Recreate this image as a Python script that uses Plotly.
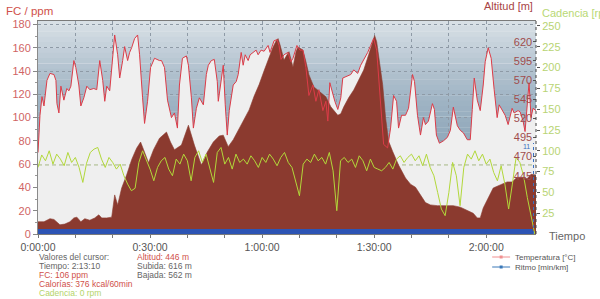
import plotly.graph_objects as go

# ---------------- data ----------------
# Heart rate (FC, ppm) vs time in minutes
hr_min = [0, 0.3, 0.53, 1.07, 1.6, 2.4, 3.2, 4.27, 4.8, 5.07,
          5.6, 6.13, 6.93, 7.73, 8.27, 8.8, 9.6, 10.13, 10.93, 11.47,
          12.27, 13.07, 13.87, 14.93, 15.73, 16.53, 17.33, 17.87, 18.4, 19.2,
          20.0, 20.53, 21.33, 21.87, 22.67, 23.2, 24.0, 24.53, 25.07, 25.87,
          26.67, 27.2, 28.0, 28.53, 29.33, 30.13, 31.2, 32.53, 33.07, 33.87,
          34.67, 35.2, 35.73, 36.53, 37.33, 37.87, 38.67, 39.73, 40.27, 41.07,
          41.6, 42.4, 43.2, 44.27, 45.07, 45.6, 46.4, 47.2, 48.0, 48.27,
          49.07, 49.6, 50.13, 50.67, 51.2, 52.27, 53.07, 53.6, 54.4, 54.93,
          55.47, 56.27, 56.8, 57.87, 58.4, 58.93, 59.73, 60.53, 61.6, 62.13,
          63.2, 64.0, 64.53, 65.07, 65.87, 66.93, 67.73, 68.27, 69.33, 70.13,
          70.93, 71.73, 72.53, 73.6, 74.4, 75.2, 76.27, 77.07, 77.6, 78.13,
          78.93, 79.47, 80.27, 81.07, 81.6, 82.93, 83.73, 84.53, 85.6, 86.4,
          87.47, 88.27, 89.07, 89.87, 90.67, 91.73, 92.53, 93.6, 94.4, 95.2,
          96.0, 96.53, 97.33, 98.4, 99.2, 100.27, 100.8, 101.6, 102.4, 103.2,
          103.73, 104.53, 105.6, 106.13, 106.67, 107.47, 108.53, 109.6, 110.4, 111.2,
          112.27, 113.07, 113.87, 114.93, 115.73, 116.27, 116.8, 117.6, 118.4, 119.2,
          119.73, 120.53, 121.33, 122.13, 122.93, 123.47, 124.27, 125.07, 125.87, 126.93,
          127.47, 128.53, 129.07, 129.87, 130.4, 130.93, 131.47, 132.0, 132.53, 133.33]
hr_bpm = [70, 95, 102, 118, 110, 132, 138, 137, 132, 112,
          104, 127, 115, 125, 123, 127, 149, 143, 128, 110,
          117, 127, 124, 125, 124, 149, 132, 114, 127, 123,
          151, 171, 154, 134, 149, 161, 149, 156, 160, 168,
          171, 154, 117, 95, 114, 143, 151, 149, 149, 143,
          115, 106, 100, 104, 91, 128, 151, 153, 145, 117,
          91, 108, 117, 111, 137, 145, 149, 150, 131, 114,
          134, 145, 111, 85, 106, 128, 131, 137, 156, 145,
          154, 149, 154, 157, 158, 154, 158, 157, 162, 156,
          166, 167, 162, 150, 154, 156, 148, 151, 162, 158,
          158, 143, 119, 128, 114, 124, 106, 114, 97, 130,
          119, 114, 107, 117, 134, 136, 137, 141, 138, 145,
          151, 156, 162, 168, 158, 114, 77, 74, 91, 119,
          114, 91, 102, 102, 108, 137, 131, 102, 85, 100,
          94, 97, 112, 107, 85, 78, 80, 83, 89, 109,
          93, 89, 87, 81, 81, 107, 134, 115, 106, 128,
          148, 160, 151, 124, 100, 111, 106, 102, 94, 108,
          104, 106, 105, 97, 88, 112, 130, 100, 108, 106]

# Altitude (m) vs time in minutes
alt_min = [0, 1.6, 3.2, 4.27, 5.87, 7.2, 8.53, 9.6, 10.4, 11.47,
           12.53, 13.87, 15.2, 16.27, 17.07, 18.4, 19.73, 20.53, 21.33, 22.4,
           23.73, 25.07, 26.4, 27.47, 28.27, 29.6, 30.93, 32.53, 34.4, 35.47,
           36.53, 38.4, 40.27, 41.87, 43.73, 45.33, 46.93, 48.53, 49.6, 50.93,
           52.27, 53.6, 55.2, 56.53, 57.87, 59.2, 60.53, 61.87, 62.93, 63.73,
           64.27, 64.8, 65.87, 66.67, 67.2, 68.27, 69.07, 69.6, 70.93, 71.73,
           72.53, 73.87, 74.93, 75.73, 77.07, 78.4, 80.27, 81.07, 81.87, 83.2,
           84.53, 85.87, 87.2, 88.53, 89.6, 90.13, 90.67, 91.2, 92.27, 93.07,
           93.87, 94.93, 96.53, 98.4, 99.73, 101.07, 102.4, 103.73, 105.07, 106.93,
           109.07, 111.2, 113.07, 114.93, 116.53, 117.6, 118.4, 119.2, 120.53, 121.87,
           123.73, 125.6, 126.93, 128.27, 129.87, 130.93, 132.0, 133.33]
alt_m = [385, 385, 389, 388, 381, 382, 385, 390, 391, 385,
         389, 387, 390, 394, 390, 390, 391, 420, 407, 429,
         446, 466, 481, 489, 479, 462, 479, 494, 502, 489,
         479, 485, 511, 485, 459, 476, 489, 497, 498, 483,
         492, 504, 520, 531, 549, 564, 582, 600, 613, 621,
         624, 616, 596, 603, 607, 587, 607, 613, 609, 594,
         577, 561, 557, 553, 548, 535, 524, 526, 535, 547,
         557, 570, 583, 603, 620, 628, 620, 603, 564, 520,
         490, 477, 459, 442, 434, 430, 420, 410, 407, 406,
         406, 406, 404, 400, 396, 390, 390, 403, 416, 429,
         433, 437, 437, 443, 443, 441, 447, 446]

# Cadence (rpm), one reading per minute from 0 to 133
cad_rpm = [80, 95, 88, 100, 84, 96, 90, 82, 98, 86,
           92, 80, 62, 85, 98, 102, 104, 90, 80, 92,
           86, 78, 84, 70, 60, 52, 55, 86, 100, 90,
           78, 64, 80, 88, 92, 78, 70, 90, 84, 96,
           88, 64, 92, 100, 86, 96, 80, 62, 98, 104,
           84, 92, 78, 96, 86, 90, 84, 94, 88, 80,
           92, 86, 96, 90, 82, 92, 98, 86, 80, 62,
           46, 84, 90, 86, 96, 88, 92, 84, 98, 76,
           28, 88, 92, 86, 90, 80, 94, 88, 76, 90,
           80, 78, 76, 80, 86, 78, 90, 94, 86, 92,
           96, 88, 94, 82, 96, 80, 70, 50, 30, 22,
           50, 86, 70, 34, 80, 96, 90, 100, 88, 96,
           84, 90, 74, 64, 82, 60, 30, 60, 92, 86,
           70, 44, 20, 0]
cad_min = list(range(len(cad_rpm)))
cad_avg = 83

# Ritmo (pace) band at the bottom
ritmo_min = [0, 132.5]
ritmo_level = [4.3, 4.3]

x_ticks = [0, 10, 20, 30, 40, 50, 60, 70, 80, 90, 100, 110, 120, 130]
x_labels = {0: "0:00:00", 30: "0:30:00", 60: "1:00:00", 90: "1:30:00", 120: "2:00:00"}
fc_ticks = [0, 20, 40, 60, 80, 100, 120, 140, 160, 180]
alt_ticks = [445, 470, 495, 520, 545, 570, 595, 620]
cad_ticks = [25, 50, 75, 100, 125, 150, 175, 200, 225, 250]

cursor_left = [("Valores del cursor:", "#666666"),
               ("Tiempo: 2:13:10", "#666666"),
               ("FC: 106 ppm", "#d0504a"),
               ("Calorías: 376 kcal/60min", "#d0504a"),
               ("Cadencia: 0 rpm", "#b4d46a")]
cursor_right = [("Altitud: 446 m", "#d0504a"),
                ("Subida: 616 m", "#666666"),
                ("Bajada: 562 m", "#666666")]

# ---------------- layout helpers ----------------
W, H = 600, 299
L, R, T, B = 36, 536, 21, 234
X_MAX = 133.33
FONT = "Liberation Sans, Arial, sans-serif"


def px(x):
    return (x - L) / (R - L)


def py(y):
    return (B - y) / (B - T)


fig = go.Figure()

fig.add_trace(go.Scatter(x=hr_min, y=hr_bpm, mode="lines", fill="tozeroy",
                         fillcolor="#efefef", line=dict(width=0, color="#efefef"),
                         yaxis="y", hoverinfo="skip", showlegend=False))
fig.add_trace(go.Scatter(x=[cad_min[0], X_MAX], y=[cad_avg, cad_avg], mode="lines",
                         line=dict(color="#a6b884", width=1, dash="4px,3px"),
                         yaxis="y2", hoverinfo="skip", showlegend=False))
fig.add_trace(go.Scatter(x=alt_min, y=alt_m, mode="lines", fill="tozeroy",
                         fillcolor="#8b3a2f", line=dict(width=0.6, color="#8b3a2f"),
                         yaxis="y3", hoverinfo="skip", showlegend=False))
fig.add_trace(go.Scatter(x=hr_min, y=hr_bpm, mode="lines",
                         line=dict(color="#dc3c48", width=1),
                         yaxis="y4", hoverinfo="skip", showlegend=False))
fig.add_trace(go.Scatter(x=ritmo_min, y=ritmo_level, mode="lines", fill="tozeroy",
                         fillcolor="#2c54b4", line=dict(width=0, color="#2c54b4"),
                         yaxis="y4", hoverinfo="skip", showlegend=False))
fig.add_trace(go.Scatter(x=cad_min, y=cad_rpm, mode="lines",
                         line=dict(color="#b2d83a", width=1),
                         yaxis="y5", hoverinfo="skip", showlegend=False))

# background gradient of the plot area
anchors = [(0.0, (218, 226, 232)), (0.066, (206, 216, 224)), (0.23, (178, 194, 207)),
           (0.37, (160, 180, 196)), (0.51, (148, 171, 189)), (1.0, (128, 156, 178))]
shapes = []
N = 40
for i in range(N):
    f = (i + 0.5) / N
    for j in range(len(anchors) - 1):
        if anchors[j][0] <= f <= anchors[j + 1][0]:
            a, b = anchors[j], anchors[j + 1]
            k = (f - a[0]) / (b[0] - a[0])
            c = tuple(round(a[1][m] + k * (b[1][m] - a[1][m])) for m in range(3))
            break
    shapes.append(dict(type="rect", xref="paper", yref="paper", x0=0, x1=1,
                       y0=1 - (i + 1) / N, y1=1 - i / N + 0.001, layer="below",
                       fillcolor="rgb(%d,%d,%d)" % c, line=dict(width=0)))

# right spine (dotted) and pace axis stub
shapes.append(dict(type="line", xref="paper", yref="paper", x0=1, x1=1, y0=0, y1=1,
                   line=dict(color="#444444", width=1, dash="dot")))
shapes.append(dict(type="line", xref="paper", yref="paper", x0=px(533.5), x1=px(533.5),
                   y0=0, y1=py(143), line=dict(color="#3a70c0", width=1, dash="dot")))

# legend (bottom right)
for yy, col in [(257, "#f09090"), (267, "#3a78b8")]:
    shapes.append(dict(type="line", xref="paper", yref="paper", x0=px(492), x1=px(510),
                       y0=py(yy), y1=py(yy), line=dict(color=col, width=1)))
    shapes.append(dict(type="rect", xref="paper", yref="paper", x0=px(499.5), x1=px(502.5),
                       y0=py(yy + 1.5), y1=py(yy - 1.5), fillcolor=col, line=dict(width=0)))

annotations = []
annotations.append(dict(text="FC / ppm", x=px(2), y=py(10.5), xref="paper", yref="paper",
                        xanchor="left", yanchor="middle", showarrow=False,
                        font=dict(family=FONT, size=11.5, color="#d0504a")))
annotations.append(dict(text="Altitud [m]", x=px(535), y=py(6), xref="paper", yref="paper",
                        xanchor="right", yanchor="middle", showarrow=False,
                        font=dict(family=FONT, size=11, color="#a84444")))
annotations.append(dict(text="Cadencia [rpm]", x=px(540), y=py(13), xref="paper", yref="paper",
                        xanchor="left", yanchor="middle", showarrow=False,
                        font=dict(family=FONT, size=11, color="#b8d874")))
annotations.append(dict(text="Tiempo", x=px(547), y=py(236), xref="paper", yref="paper",
                        xanchor="left", yanchor="middle", showarrow=False,
                        font=dict(family=FONT, size=11, color="#666666")))
annotations.append(dict(text="11", x=px(532), y=py(146), xref="paper", yref="paper",
                        xanchor="right", yanchor="middle", showarrow=False,
                        font=dict(family=FONT, size=7, color="#3a70c0")))
for i, (txt, col) in enumerate(cursor_left):
    annotations.append(dict(text=txt, x=px(35), y=py(256.5 + i * 9), xref="paper", yref="paper",
                            xanchor="left", yanchor="middle", showarrow=False,
                            font=dict(family=FONT, size=8.5, color=col)))
for i, (txt, col) in enumerate(cursor_right):
    annotations.append(dict(text=txt, x=px(133), y=py(256.5 + i * 9), xref="paper", yref="paper",
                            xanchor="left", yanchor="middle", showarrow=False,
                            font=dict(family=FONT, size=8.5, color=col)))
for yy, txt in [(257, "Temperatura [°C]"), (267, "Ritmo [min/km]")]:
    annotations.append(dict(text=txt, x=px(513), y=py(yy), xref="paper", yref="paper",
                            xanchor="left", yanchor="middle", showarrow=False,
                            font=dict(family=FONT, size=8, color="#555555")))

grid = dict(showgrid=True, gridcolor="#8e9aa6", griddash="dot", gridwidth=1)

fig.update_layout(
    width=W, height=H,
    margin=dict(l=L, r=W - R, t=T, b=H - B, pad=0),
    paper_bgcolor="white", plot_bgcolor="rgba(0,0,0,0)",
    showlegend=False,
    font=dict(family=FONT, size=11, color="#555555"),
    shapes=shapes, annotations=annotations,
    xaxis=dict(range=[0, X_MAX], tickmode="array", tickvals=x_ticks,
               ticktext=[x_labels.get(v, "") for v in x_ticks],
               ticks="outside", ticklen=3, tickcolor="#777777",
               tickfont=dict(family=FONT, size=10.5, color="#555555"),
               showline=True, linecolor="#7a7a7a", mirror=True, zeroline=False, **grid),
    yaxis=dict(range=[0, 183], tickmode="array", tickvals=fc_ticks,
               ticks="outside", ticklen=4, tickcolor="#888888",
               tickfont=dict(family=FONT, size=11, color="#d06464"),
               showline=True, linecolor="#8a8a8a", zeroline=False,
               minor=dict(dtick=10, ticklen=2, ticks="outside", tickcolor="#999999", showgrid=False),
               **grid),
    yaxis2=dict(range=[0, 256], overlaying="y", side="right", anchor="x",
                tickmode="array", tickvals=cad_ticks, ticks="outside", ticklen=3,
                tickcolor="#555555", tickfont=dict(family=FONT, size=11, color="#b8d474"),
                showgrid=False, zeroline=False, showline=False),
    yaxis3=dict(range=[369, 647], overlaying="y", side="right", anchor="x",
                tickmode="array", tickvals=alt_ticks, ticks="inside", ticklen=3,
                ticklabelposition="inside", tickcolor="#555555",
                tickfont=dict(family=FONT, size=11, color="#a04c4c"),
                showgrid=False, zeroline=False, showline=False),
    yaxis4=dict(range=[0, 183], overlaying="y", visible=False),
    yaxis5=dict(range=[0, 256], overlaying="y", visible=False),
)

fig.write_html("out.html")
